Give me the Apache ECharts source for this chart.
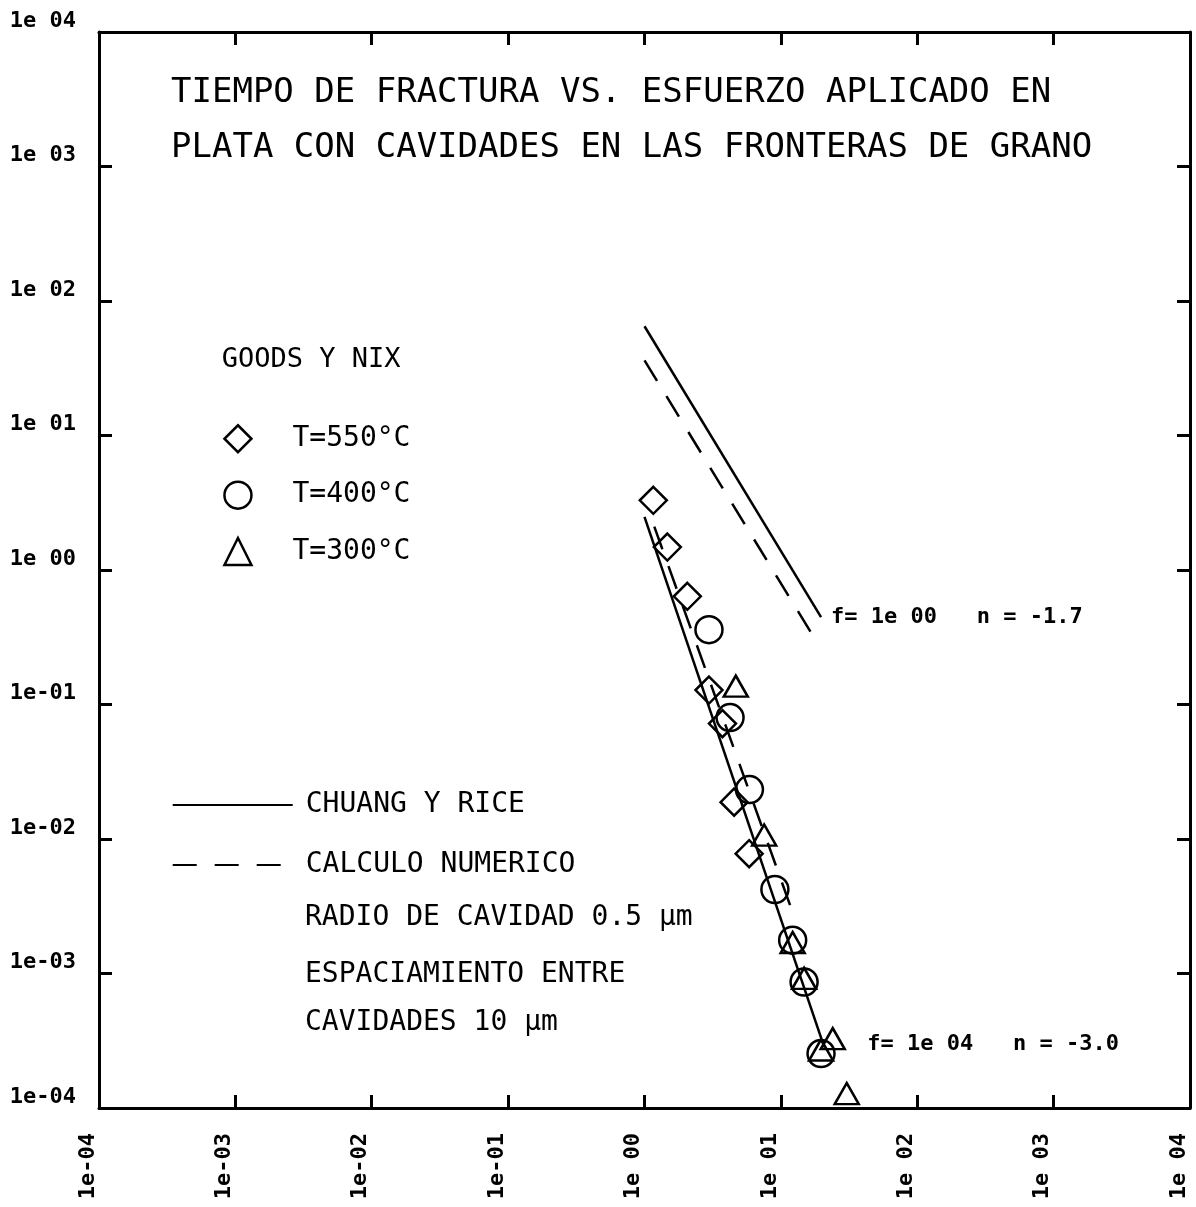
<!DOCTYPE html>
<html>
<head>
<meta charset="utf-8">
<script src="https://cdn.jsdelivr.net/npm/echarts@6/dist/echarts.min.js"></script>
<style>
html,body{margin:0;padding:0;background:#fff;}
#chart{width:1196px;height:1207px;}
</style>
</head>
<body>
<div id="chart"></div>
<script>
// ---- text ----
const titleLines = ['TIEMPO DE FRACTURA VS. ESFUERZO APLICADO EN', 'PLATA CON CAVIDADES EN LAS FRONTERAS DE GRANO'];
const tickExponents = [-4, -3, -2, -1, 0, 1, 2, 3, 4];
const xTickLabels = ['1e-04', '1e-03', '1e-02', '1e-01', '1e 00', '1e 01', '1e 02', '1e 03', '1e 04'];
const yTickLabels = ['1e-04', '1e-03', '1e-02', '1e-01', '1e 00', '1e 01', '1e 02', '1e 03', '1e 04'];
const expHeading = 'GOODS Y NIX';
const seriesNames550 = 'T=550°C';
const seriesNames400 = 'T=400°C';
const seriesNames300 = 'T=300°C';
const modelNameSolid = 'CHUANG Y RICE';
const modelNameDashed = 'CALCULO NUMERICO';
const noteLines = ['RADIO DE CAVIDAD 0.5 µm', 'ESPACIAMIENTO ENTRE', 'CAVIDADES 10 µm'];
const annotF1 = 'f= 1e 00   n = -1.7';
const annotF4 = 'f= 1e 04   n = -3.0';

// ---- data: [stress, time to fracture] ----
const goods550 = [[1.16, 3.30], [1.47, 1.48], [2.06, 0.637], [2.97, 0.128], [3.73, 0.0721], [4.54, 0.0188], [5.85, 0.00778]];
const goods400 = [[2.97, 0.360], [4.24, 0.0799], [5.88, 0.0233], [9.04, 0.00421], [12.2, 0.00177], [14.8, 0.000865], [19.7, 0.000254]];
const goods300 = [[4.67, 0.137], [7.54, 0.0107], [12.2, 0.0017], [14.8, 0.00092], [19.7, 0.00027], [24.0, 0.000328], [30.4, 0.000128]];
const chuangF1 = [[1.0, 64.9], [19.7, 0.447]];
const numericF1 = [[1.0, 36.2], [16.6, 0.344]];
const chuangF4 = [[1.0, 2.48], [20.8, 0.000284]];
const numericF4 = [[1.18, 2.1], [12.2, 0.00285]];

const MONO = "'DejaVu Sans Mono', 'Liberation Mono', monospace";
const tickFmtX = v => xTickLabels[tickExponents.indexOf(Math.round(Math.log10(v)))] || '';
const tickFmtY = v => yTickLabels[tickExponents.indexOf(Math.round(Math.log10(v)))] || '';

const axisLineStyle = { show: true, lineStyle: { color: '#000', width: 3 } };
const axisTickStyle = { show: true, inside: true, length: 13, lineStyle: { color: '#000', width: 3 } };
const tickLabelFont = { color: '#000', fontFamily: MONO, fontSize: 22, fontWeight: 'bold' };

const markerStyle = { color: 'rgba(0,0,0,0)', borderColor: '#000', borderWidth: 2.5, opacity: 1 };
const textFont = { color: '#000', fontFamily: MONO, fontSize: 28 };

const chart = echarts.init(document.getElementById('chart'));
chart.setOption({
  animation: false,
  backgroundColor: '#ffffff',
  title: {
    text: titleLines.join('\n'),
    left: 166, top: 60,
    textStyle: { color: '#000', fontFamily: MONO, fontSize: 34, fontWeight: 'normal', lineHeight: 55.5 }
  },
  grid: { left: 99, right: 6, top: 32, bottom: 99 },
  xAxis: [
    { type: 'log', logBase: 10, min: 1e-4, max: 1e4, position: 'bottom',
      axisLine: axisLineStyle, axisTick: axisTickStyle, splitLine: { show: false },
      axisLabel: Object.assign({ rotate: 90, margin: 25, verticalAlign: 'bottom', formatter: tickFmtX }, tickLabelFont) },
    { type: 'log', logBase: 10, min: 1e-4, max: 1e4, position: 'top',
      axisLine: axisLineStyle, axisTick: axisTickStyle, splitLine: { show: false },
      axisLabel: { show: false } }
  ],
  yAxis: [
    { type: 'log', logBase: 10, min: 1e-4, max: 1e4, position: 'left',
      axisLine: axisLineStyle, axisTick: axisTickStyle, splitLine: { show: false },
      axisLabel: Object.assign({ margin: 23, verticalAlign: 'bottom', formatter: tickFmtY }, tickLabelFont) },
    { type: 'log', logBase: 10, min: 1e-4, max: 1e4, position: 'right',
      axisLine: axisLineStyle, axisTick: axisTickStyle, splitLine: { show: false },
      axisLabel: { show: false } }
  ],
  legend: [
    { orient: 'vertical', left: 218.2, top: 419, itemWidth: 27, itemHeight: 27, itemGap: 26.9,
      data: [seriesNames550, seriesNames400, seriesNames300], selectedMode: false,
      itemStyle: markerStyle,
      formatter: n => '{sp| }{t|' + n + '}',
      textStyle: { rich: { sp: { width: 36 }, t: textFont } } },
    { orient: 'vertical', left: 166.7, top: 786, itemWidth: 120, itemHeight: 20, itemGap: 32,
      data: [modelNameSolid, modelNameDashed], selectedMode: false,
      itemStyle: { color: 'rgba(0,0,0,0)', borderWidth: 0, opacity: 0 },
      formatter: n => '{sp| }{t|' + n + '}',
      textStyle: { rich: { sp: { width: 8 }, t: textFont } } }
  ],
  graphic: [
    { type: 'text', x: 221.7, y: 360, style: { text: expHeading, fill: '#000', fontFamily: MONO, fontSize: 27, verticalAlign: 'middle' } },
    { type: 'text', x: 305, y: 918, style: { text: noteLines[0], fill: '#000', fontFamily: MONO, fontSize: 28, verticalAlign: 'middle' } },
    { type: 'text', x: 305, y: 975, style: { text: noteLines[1], fill: '#000', fontFamily: MONO, fontSize: 28, verticalAlign: 'middle' } },
    { type: 'text', x: 305, y: 1023, style: { text: noteLines[2], fill: '#000', fontFamily: MONO, fontSize: 28, verticalAlign: 'middle' } }
  ],
  series: [
    { name: modelNameSolid, type: 'line', data: chuangF1, symbol: 'none',
      lineStyle: { color: '#000', width: 2.5, type: 'solid' }, itemStyle: { color: '#000' },
      endLabel: Object.assign({ show: true, formatter: annotF1, distance: 10, align: 'left', verticalAlign: 'middle' }, tickLabelFont) },
    { name: modelNameDashed, type: 'line', data: numericF1, symbol: 'none',
      lineStyle: { color: '#000', width: 2.5, type: [24, 18] }, itemStyle: { color: '#000' } },
    { name: modelNameSolid, type: 'line', data: chuangF4, symbol: 'none',
      lineStyle: { color: '#000', width: 2.5, type: 'solid' }, itemStyle: { color: '#000' },
      endLabel: Object.assign({ show: true, formatter: annotF4, distance: 43, offset: [0, -3], align: 'left', verticalAlign: 'middle' }, tickLabelFont) },
    { name: modelNameDashed, type: 'line', data: numericF4, symbol: 'none',
      lineStyle: { color: '#000', width: 2.5, type: [24, 18] }, itemStyle: { color: '#000' } },
    { name: seriesNames550, type: 'scatter', data: goods550, symbol: 'diamond', symbolSize: 27, itemStyle: markerStyle },
    { name: seriesNames400, type: 'scatter', data: goods400, symbol: 'circle', symbolSize: 27, itemStyle: markerStyle },
    { name: seriesNames300, type: 'scatter', data: goods300, symbol: 'triangle', symbolSize: [24, 21], itemStyle: markerStyle }
  ]
});
</script>
</body>
</html>
